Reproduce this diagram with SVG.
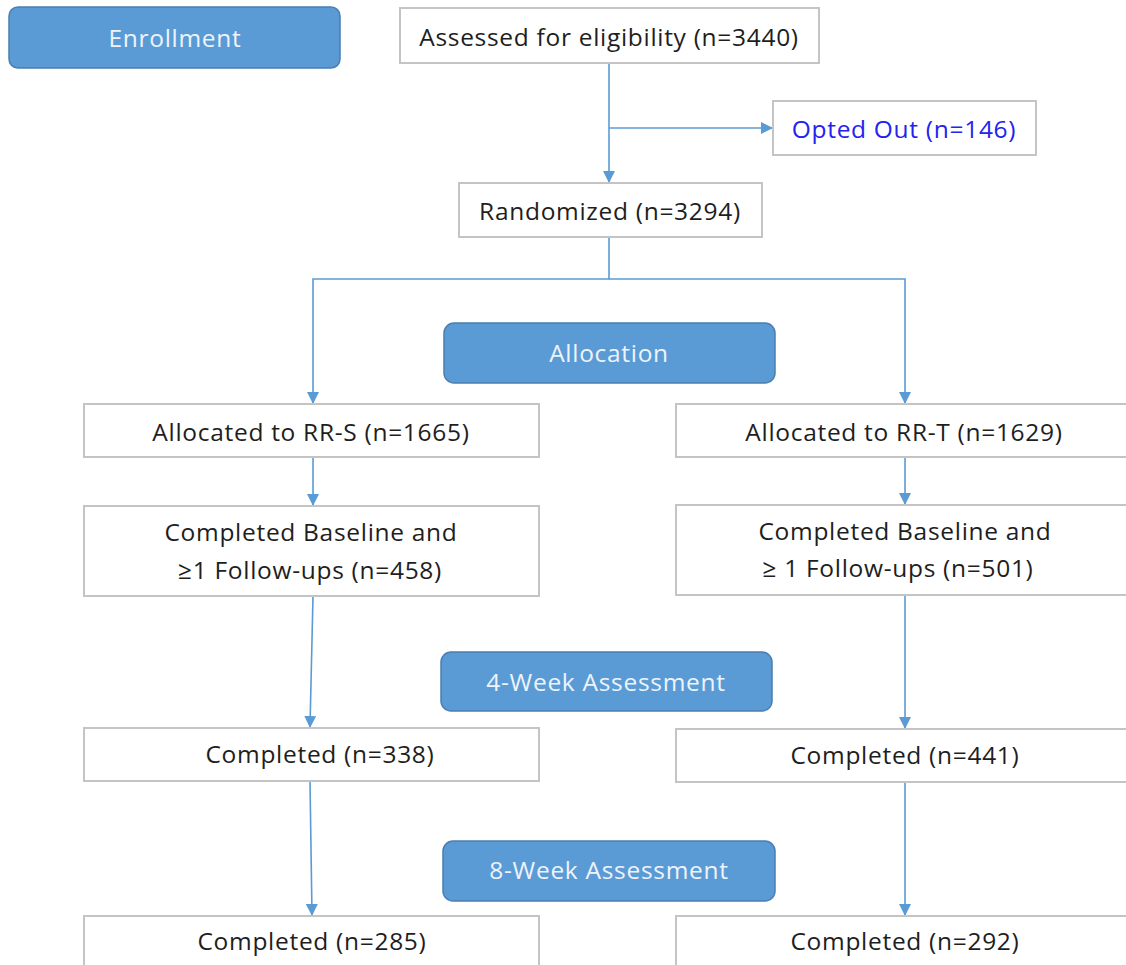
<svg xmlns="http://www.w3.org/2000/svg" width="1126" height="965" viewBox="0 0 1126 965">
<style>
.box{fill:#fff;stroke:#c4c4c4;stroke-width:2}
.hdr{fill:#5b9bd5;stroke:#4a7fb0;stroke-width:1.5}
.t{font-family:"Open Sans","Liberation Sans",Arial,sans-serif;font-size:24.5px;fill:#1e1e1e;text-anchor:middle;letter-spacing:0.7px}
.h{font-family:"Open Sans","Liberation Sans",Arial,sans-serif;font-size:24.5px;fill:#eef3fa;text-anchor:middle;letter-spacing:0.7px}
.c{fill:none;stroke:#5b9bd5;stroke-width:1.6}
</style>
<defs>
<marker id="a" markerWidth="12" markerHeight="12" refX="11" refY="6" orient="auto" markerUnits="userSpaceOnUse" viewBox="0 0 12 12">
<path d="M0,0 L12,6 L0,12 z" fill="#5b9bd5"/>
</marker>
</defs>
<rect width="1126" height="965" fill="#fff"/>
<g id="connectors">
<path class="c" d="M609,63 V182" marker-end="url(#a)"/>
<path class="c" d="M609,128 H772" marker-end="url(#a)"/>
<path class="c" d="M609,237 V279 H313 V403" marker-end="url(#a)"/>
<path class="c" d="M609,279 H905 V403" marker-end="url(#a)"/>
<path class="c" d="M313,457 V505" marker-end="url(#a)"/>
<path class="c" d="M905,457 V504" marker-end="url(#a)"/>
<path class="c" d="M313,596 L310,727" marker-end="url(#a)"/>
<path class="c" d="M905,595 V728" marker-end="url(#a)"/>
<path class="c" d="M310,781 L312,915" marker-end="url(#a)"/>
<path class="c" d="M905,782 V915" marker-end="url(#a)"/>
</g>
<g id="enrollment"><rect class="hdr" x="9" y="7" width="331" height="61" rx="9"/><text class="h" x="175" y="47">Enrollment</text></g>
<g id="assessed"><rect class="box" x="400" y="8" width="419" height="55"/><text class="t" x="609" y="46">Assessed for eligibility (n=3440)</text></g>
<g id="optedout"><rect class="box" x="773" y="101" width="263" height="54"/><text class="t" x="904" y="138" style="fill:#2323f0">Opted Out (n=146)</text></g>
<g id="randomized"><rect class="box" x="459" y="183" width="303" height="54"/><text class="t" x="610" y="220">Randomized (n=3294)</text></g>
<g id="allocation"><rect class="hdr" x="444" y="323" width="331" height="60" rx="10"/><text class="h" x="609" y="362">Allocation</text></g>
<g id="rrs"><rect class="box" x="84" y="404" width="455" height="53"/><text class="t" x="311" y="441">Allocated to RR-S (n=1665)</text></g>
<g id="rrt"><rect class="box" x="676" y="404" width="460" height="53"/><text class="t" x="904" y="441">Allocated to RR-T (n=1629)</text></g>
<g id="baseS"><rect class="box" x="84" y="506" width="455" height="90"/><text class="t" x="311" y="541">Completed Baseline and</text><text class="t" x="310" y="579">≥1 Follow-ups (n=458)</text></g>
<g id="baseT"><rect class="box" x="676" y="505" width="460" height="90"/><text class="t" x="905" y="540">Completed Baseline and</text><text class="t" x="898" y="577">≥ 1 Follow-ups (n=501)</text></g>
<g id="week4"><rect class="hdr" x="441" y="652" width="331" height="59" rx="10"/><text class="h" x="606" y="691">4-Week Assessment</text></g>
<g id="c338"><rect class="box" x="84" y="728" width="455" height="53"/><text class="t" x="320" y="763">Completed (n=338)</text></g>
<g id="c441"><rect class="box" x="676" y="729" width="460" height="53"/><text class="t" x="905" y="764">Completed (n=441)</text></g>
<g id="week8"><rect class="hdr" x="443" y="841" width="332" height="60" rx="10"/><text class="h" x="609" y="879">8-Week Assessment</text></g>
<g id="c285"><rect class="box" x="84" y="916" width="455" height="60"/><text class="t" x="312" y="950">Completed (n=285)</text></g>
<g id="c292"><rect class="box" x="676" y="916" width="460" height="60"/><text class="t" x="905" y="950">Completed (n=292)</text></g>
</svg>
